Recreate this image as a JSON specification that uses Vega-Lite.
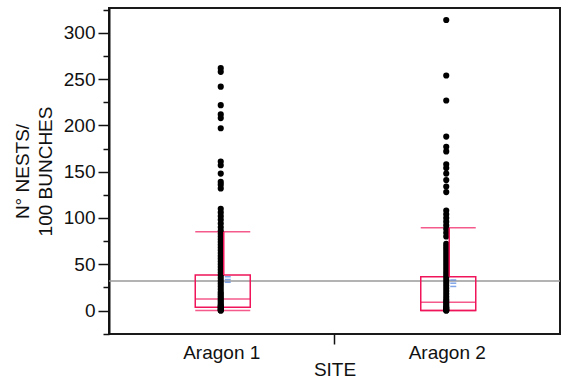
{
  "$schema": "https://vega.github.io/schema/vega-lite/v6.json",
  "autosize": "none",
  "width": 451,
  "height": 326,
  "padding": {"left": 109, "top": 8, "right": 2, "bottom": 51},
  "background": "white",
  "config": {
    "view": {"stroke": "#1a1a1a", "strokeWidth": 2},
    "font": "Liberation Sans",
    "axis": {"labelFont": "Liberation Sans", "titleFont": "Liberation Sans", "labelColor": "#111", "titleColor": "#111", "titleFontWeight": "normal", "grid": false}
  },
  "resolve": {"scale": {"y": "shared"}, "axis": {"y": "independent"}},
  "datasets": {
    "points": [
      {"site": "Aragon 1", "nests": 262}, {"site": "Aragon 1", "nests": 258}, {"site": "Aragon 1", "nests": 242}, {"site": "Aragon 1", "nests": 222},
      {"site": "Aragon 1", "nests": 212}, {"site": "Aragon 1", "nests": 208}, {"site": "Aragon 1", "nests": 197}, {"site": "Aragon 1", "nests": 161},
      {"site": "Aragon 1", "nests": 157}, {"site": "Aragon 1", "nests": 148}, {"site": "Aragon 1", "nests": 139}, {"site": "Aragon 1", "nests": 136},
      {"site": "Aragon 1", "nests": 132}, {"site": "Aragon 1", "nests": 110}, {"site": "Aragon 1", "nests": 106}, {"site": "Aragon 1", "nests": 102},
      {"site": "Aragon 1", "nests": 98}, {"site": "Aragon 1", "nests": 94}, {"site": "Aragon 1", "nests": 90}, {"site": "Aragon 1", "nests": 86},
      {"site": "Aragon 1", "nests": 83}, {"site": "Aragon 1", "nests": 80}, {"site": "Aragon 1", "nests": 77}, {"site": "Aragon 1", "nests": 74},
      {"site": "Aragon 1", "nests": 71}, {"site": "Aragon 1", "nests": 68}, {"site": "Aragon 1", "nests": 65}, {"site": "Aragon 1", "nests": 62},
      {"site": "Aragon 1", "nests": 59}, {"site": "Aragon 1", "nests": 56}, {"site": "Aragon 1", "nests": 53}, {"site": "Aragon 1", "nests": 50},
      {"site": "Aragon 1", "nests": 47}, {"site": "Aragon 1", "nests": 44}, {"site": "Aragon 1", "nests": 41}, {"site": "Aragon 1", "nests": 38},
      {"site": "Aragon 1", "nests": 35}, {"site": "Aragon 1", "nests": 32}, {"site": "Aragon 1", "nests": 29}, {"site": "Aragon 1", "nests": 26},
      {"site": "Aragon 1", "nests": 23}, {"site": "Aragon 1", "nests": 20}, {"site": "Aragon 1", "nests": 18}, {"site": "Aragon 1", "nests": 16},
      {"site": "Aragon 1", "nests": 14}, {"site": "Aragon 1", "nests": 12}, {"site": "Aragon 1", "nests": 10}, {"site": "Aragon 1", "nests": 8},
      {"site": "Aragon 1", "nests": 6}, {"site": "Aragon 1", "nests": 5}, {"site": "Aragon 1", "nests": 4}, {"site": "Aragon 1", "nests": 3},
      {"site": "Aragon 1", "nests": 2}, {"site": "Aragon 1", "nests": 1}, {"site": "Aragon 1", "nests": 0}, {"site": "Aragon 1", "nests": 0},
      {"site": "Aragon 2", "nests": 314}, {"site": "Aragon 2", "nests": 254}, {"site": "Aragon 2", "nests": 227}, {"site": "Aragon 2", "nests": 188},
      {"site": "Aragon 2", "nests": 177}, {"site": "Aragon 2", "nests": 172}, {"site": "Aragon 2", "nests": 158}, {"site": "Aragon 2", "nests": 154},
      {"site": "Aragon 2", "nests": 148}, {"site": "Aragon 2", "nests": 141}, {"site": "Aragon 2", "nests": 134}, {"site": "Aragon 2", "nests": 128},
      {"site": "Aragon 2", "nests": 108}, {"site": "Aragon 2", "nests": 104}, {"site": "Aragon 2", "nests": 100}, {"site": "Aragon 2", "nests": 96},
      {"site": "Aragon 2", "nests": 92}, {"site": "Aragon 2", "nests": 88}, {"site": "Aragon 2", "nests": 84}, {"site": "Aragon 2", "nests": 80},
      {"site": "Aragon 2", "nests": 72}, {"site": "Aragon 2", "nests": 69}, {"site": "Aragon 2", "nests": 66}, {"site": "Aragon 2", "nests": 63},
      {"site": "Aragon 2", "nests": 60}, {"site": "Aragon 2", "nests": 57}, {"site": "Aragon 2", "nests": 54}, {"site": "Aragon 2", "nests": 51},
      {"site": "Aragon 2", "nests": 48}, {"site": "Aragon 2", "nests": 45}, {"site": "Aragon 2", "nests": 42}, {"site": "Aragon 2", "nests": 39},
      {"site": "Aragon 2", "nests": 36}, {"site": "Aragon 2", "nests": 33}, {"site": "Aragon 2", "nests": 30}, {"site": "Aragon 2", "nests": 27},
      {"site": "Aragon 2", "nests": 24}, {"site": "Aragon 2", "nests": 21}, {"site": "Aragon 2", "nests": 18}, {"site": "Aragon 2", "nests": 15},
      {"site": "Aragon 2", "nests": 12}, {"site": "Aragon 2", "nests": 10}, {"site": "Aragon 2", "nests": 8}, {"site": "Aragon 2", "nests": 6},
      {"site": "Aragon 2", "nests": 4}, {"site": "Aragon 2", "nests": 3}, {"site": "Aragon 2", "nests": 2}, {"site": "Aragon 2", "nests": 1},
      {"site": "Aragon 2", "nests": 0}, {"site": "Aragon 2", "nests": 0}
    ],
    "boxes": [
      {"site": "Aragon 1", "lo": 0, "q1": 3.5, "median": 12.5, "q3": 38.5, "hi": 85},
      {"site": "Aragon 2", "lo": 0, "q1": 0, "median": 9, "q3": 36.5, "hi": 89.5}
    ],
    "means": [
      {"site": "Aragon 1", "v": 36.5}, {"site": "Aragon 1", "v": 33.5}, {"site": "Aragon 1", "v": 30.5},
      {"site": "Aragon 2", "v": 33}, {"site": "Aragon 2", "v": 29.5}, {"site": "Aragon 2", "v": 26}
    ],
    "grand": [{"grand": 32}]
  },
  "layer": [
    {
      "data": {"name": "grand"},
      "mark": {"type": "rule", "color": "#9a9a9a", "strokeWidth": 1.5},
      "encoding": {
        "y": {"field": "grand", "type": "quantitative", "scale": {"domain": [-25.4, 327], "nice": false, "zero": false},
          "axis": {"orient": "left", "title": ["N° NESTS/", "100 BUNCHES"], "titleFontSize": 19, "titleLineHeight": 23, "titlePadding": 8,
            "labelFontSize": 19, "labelPadding": 3,
            "values": [0, 50, 100, 150, 200, 250, 300],
            "tickSize": 11, "tickColor": "#111", "tickWidth": 1.5, "domainColor": "#111", "domainWidth": 2}}
      }
    },
    {
      "data": {"name": "boxes"},
      "mark": {"type": "bar", "size": 55, "fillOpacity": 0, "stroke": "#f0145a", "strokeWidth": 1.5, "xOffset": 1},
      "encoding": {
        "x": {"field": "site", "type": "nominal", "scale": {"type": "band", "paddingInner": 0, "paddingOuter": 0},
          "axis": {"title": "SITE", "titleFontSize": 19, "labelFontSize": 19, "labelAngle": 0, "domain": false, "bandPosition": 0,
            "tickSize": 10, "tickColor": "#111", "tickWidth": 1.5, "tickOpacity": {"condition": {"test": "datum.value === 'Aragon 1'", "value": 0}, "value": 1},
            "labelPadding": -1, "titlePadding": -2}},
        "y": {"field": "q1", "type": "quantitative", "scale": {"domain": [-25.4, 327], "nice": false, "zero": false},
          "axis": {"orient": "left", "title": null, "labels": false, "domain": false, "values": [-25, 25, 75, 125, 175, 225, 275, 325],
            "tickSize": 6, "tickColor": "#111", "tickWidth": 1.5}},
        "y2": {"field": "q3"}
      }
    },
    {
      "data": {"name": "boxes"},
      "mark": {"type": "rule", "color": "#f0145a", "strokeWidth": 1.5, "xOffset": 1},
      "encoding": {
        "x": {"field": "site", "type": "nominal", "scale": {"type": "band", "paddingInner": 0, "paddingOuter": 0}},
        "y": {"field": "lo", "type": "quantitative", "scale": {"domain": [-25.4, 327], "nice": false, "zero": false}, "axis": null},
        "y2": {"field": "q1"}
      }
    },
    {
      "data": {"name": "boxes"},
      "mark": {"type": "tick", "color": "#f0145a", "size": 55, "thickness": 1.5, "xOffset": 1},
      "encoding": {
        "x": {"field": "site", "type": "nominal", "scale": {"type": "band", "paddingInner": 0, "paddingOuter": 0}},
        "y": {"field": "median", "type": "quantitative", "scale": {"domain": [-25.4, 327], "nice": false, "zero": false}, "axis": null}
      }
    },
    {
      "data": {"name": "boxes"},
      "mark": {"type": "tick", "color": "#f0145a", "size": 55, "thickness": 1.5, "xOffset": 1},
      "encoding": {
        "x": {"field": "site", "type": "nominal", "scale": {"type": "band", "paddingInner": 0, "paddingOuter": 0}},
        "y": {"field": "hi", "type": "quantitative", "scale": {"domain": [-25.4, 327], "nice": false, "zero": false}, "axis": null}
      }
    },
    {
      "data": {"name": "boxes"},
      "mark": {"type": "tick", "color": "#f0145a", "size": 55, "thickness": 1.5, "xOffset": 1},
      "encoding": {
        "x": {"field": "site", "type": "nominal", "scale": {"type": "band", "paddingInner": 0, "paddingOuter": 0}},
        "y": {"field": "lo", "type": "quantitative", "scale": {"domain": [-25.4, 327], "nice": false, "zero": false}, "axis": null}
      }
    },
    {
      "data": {"name": "points"},
      "mark": {"type": "circle", "color": "#000", "size": 38, "opacity": 1, "xOffset": -1},
      "encoding": {
        "x": {"field": "site", "type": "nominal", "scale": {"type": "band", "paddingInner": 0, "paddingOuter": 0}},
        "y": {"field": "nests", "type": "quantitative", "scale": {"domain": [-25.4, 327], "nice": false, "zero": false}, "axis": null}
      }
    },
    {
      "data": {"name": "boxes"},
      "mark": {"type": "rule", "color": "#f0145a", "strokeWidth": 1.5, "xOffset": 2},
      "encoding": {
        "x": {"field": "site", "type": "nominal", "scale": {"type": "band", "paddingInner": 0, "paddingOuter": 0}},
        "y": {"field": "q3", "type": "quantitative", "scale": {"domain": [-25.4, 327], "nice": false, "zero": false}, "axis": null},
        "y2": {"field": "hi"}
      }
    },
    {
      "data": {"name": "means"},
      "mark": {"type": "tick", "color": "#4a7fe0", "size": 6, "thickness": 1.5, "xOffset": 6},
      "encoding": {
        "x": {"field": "site", "type": "nominal", "scale": {"type": "band", "paddingInner": 0, "paddingOuter": 0}},
        "y": {"field": "v", "type": "quantitative", "scale": {"domain": [-25.4, 327], "nice": false, "zero": false}, "axis": null}
      }
    }
  ]
}
